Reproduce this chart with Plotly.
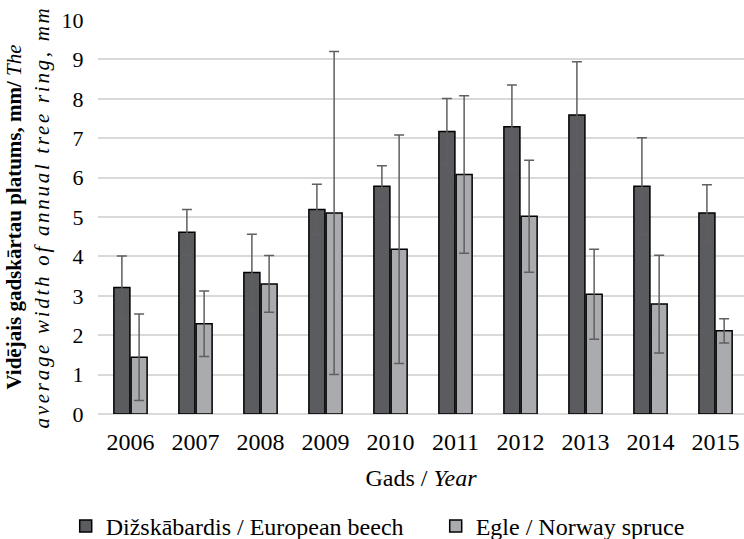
import plotly.graph_objects as go

years = ["2006", "2007", "2008", "2009", "2010", "2011", "2012", "2013", "2014", "2015"]
beech = [3.21, 4.61, 3.59, 5.19, 5.78, 7.17, 7.29, 7.59, 5.78, 5.10]
beech_err = [0.80, 0.58, 0.97, 0.64, 0.52, 0.84, 1.06, 1.35, 1.23, 0.72]
spruce = [1.44, 2.29, 3.30, 5.10, 4.18, 6.08, 5.02, 3.04, 2.79, 2.11]
spruce_err = [1.10, 0.83, 0.72, 4.10, 2.90, 2.00, 1.42, 1.14, 1.24, 0.31]

FONT = "Liberation Serif"
FS = 24

fig = go.Figure()
fig.add_trace(go.Bar(
    x=years, y=beech, name="Dižskābardis / European beech",
    marker=dict(color="#5b5c60", line=dict(color="#000000", width=1.5)),
    error_y=dict(type="data", array=beech_err, visible=True, color="#5f5f5f", thickness=1.5, width=5),
))
fig.add_trace(go.Bar(
    x=years, y=spruce, name="Egle / Norway spruce",
    marker=dict(color="#a9abae", line=dict(color="#000000", width=1.5)),
    error_y=dict(type="data", array=spruce_err, visible=True, color="#5f5f5f", thickness=1.5, width=5),
))

fig.update_layout(
    width=744, height=539,
    margin=dict(l=98, r=0, t=20, b=125, autoexpand=False),
    paper_bgcolor="white", plot_bgcolor="white",
    font=dict(family=FONT, size=FS, color="#000000"),
    barmode="group", bargap=0.47, bargroupgap=0.07,
    showlegend=True,
    legend=dict(orientation="h", x=-0.05, y=-0.285, xanchor="left", yanchor="middle",
                font=dict(family=FONT, size=FS, color="#000000"), itemwidth=30, entrywidth=325,
                bgcolor="rgba(0,0,0,0)"),
    xaxis=dict(
        type="category", range=[-0.5, 9.438], automargin=False,
        showgrid=False, showline=False, ticks="outside", ticklen=6, tickcolor="rgba(0,0,0,0)",
        tickfont=dict(family=FONT, size=FS),
        title=dict(text="Gads / <i>Year</i>", font=dict(family=FONT, size=FS), standoff=15),
    ),
    yaxis=dict(
        range=[0, 10], dtick=1, showgrid=True, gridcolor="#d9d9d9", gridwidth=1.5,
        zeroline=True, zerolinecolor="#d9d9d9", zerolinewidth=1.5, automargin=False,
        showline=False, ticks="outside", ticklen=9, tickcolor="rgba(0,0,0,0)",
        tickfont=dict(family=FONT, size=22),
        title=dict(
            text="<b>Vidējais gadskārtau platums, mm/ </b><i>The</i><br>"
                 "<i><span style='letter-spacing:2.7px'>average width of annual tree ring, mm</span></i>",
            font=dict(family=FONT, size=21), standoff=6,
        ),
    ),
)

fig.write_html("out.html", config={"displayModeBar": False},
               post_script="document.body.style.margin='0';")
